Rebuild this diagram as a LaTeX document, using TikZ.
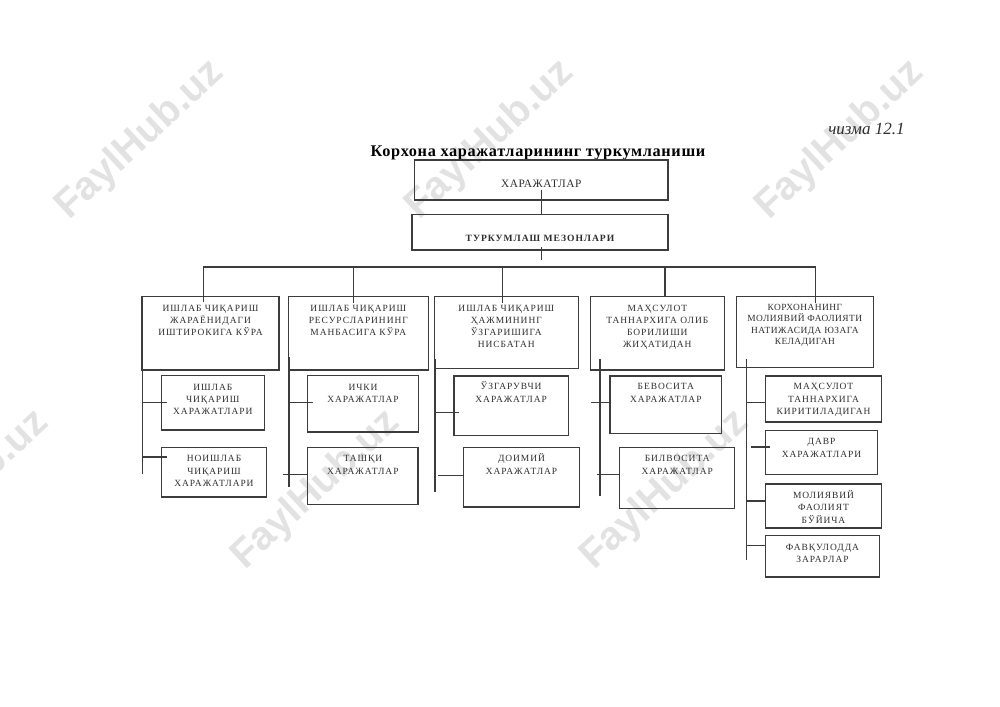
\documentclass[tikz,border=0pt]{standalone}
\usepackage{fontspec}
\setmainfont{Liberation Serif}
\newfontfamily\capsfont[LetterSpace=10]{Liberation Serif}
\newfontfamily\tightcaps[LetterSpace=5]{Liberation Serif}
\newfontfamily\markfont{Liberation Sans}
\definecolor{inkline}{HTML}{3C3C3C}
\definecolor{inktext}{HTML}{2E2E2E}
\definecolor{markgrey}{HTML}{E2E2E2}
\tikzset{
  catbox/.style={draw=inkline,line width=0.85pt,inner sep=0pt,outer sep=0pt,anchor=north west,text=inktext},
  wire/.style={draw=inkline,line width=0.9pt},
  markstyle/.style={text=markgrey,rotate=43,font=\markfont\bfseries\fontsize{30}{30}\selectfont,inner sep=0pt}
}
\newlength{\bxw}\newlength{\bxh}\newlength{\bxd}
% name x0 y0 x1 y1 offset-of-first-line font+skip text
\newcommand{\bx}[8]{%
  \setlength{\bxw}{\dimexpr #4pt-#2pt\relax}\setlength{\bxw}{0.75\bxw}%
  \setlength{\bxh}{\dimexpr #5pt-#3pt\relax}\setlength{\bxh}{0.75\bxh}%
  \setlength{\bxd}{#6pt}\setlength{\bxd}{0.75\bxd}\addtolength{\bxd}{-3.4pt}%
  \node[catbox] (#1) at (#2,#3) {\parbox[c][\bxh][t]{\bxw}{\vspace*{\bxd}\centering #7\rule{0pt}{6pt}#8\par}};%
}
\newcommand{\std}{\capsfont\fontsize{7.1}{9.2}\selectfont}
\newcommand{\lowr}{\tightcaps\fontsize{7.05}{8.6}\selectfont}
\begin{document}
\begin{tikzpicture}[x=0.75pt,y=-0.75pt]
\useasboundingbox (0,0) rectangle (1000,707);
\begin{scope}
\clip (0,0) rectangle (1000,707);
\node[markstyle] (w1) at (140,140) {FaylHub.uz};
\node[markstyle] (w2) at (490,140) {FaylHub.uz};
\node[markstyle] (w3) at (840,140) {FaylHub.uz};
\node[markstyle] (w4) at (-35,490) {FaylHub.uz};
\node[markstyle] (w5) at (316,490) {FaylHub.uz};
\node[markstyle] (w6) at (665,490) {FaylHub.uz};
\end{scope}

\node[inner sep=0pt,text=inktext,font=\fontsize{12.8}{14}\selectfont\itshape] (chizma) at (866.5,129) {чизма 12.1};
\node[inner sep=0pt,text=black,font=\fontsize{12.2}{14}\selectfont\bfseries\addfontfeature{LetterSpace=4}] (title) at (538,153) {Корхона харажатларининг туркумланиши};

\bx{xar}{414.5}{160}{668}{200}{24.5}{\tightcaps\fontsize{8.5}{10}\selectfont}{ХАРАЖАТЛАР}
\bx{mez}{412}{214.3}{668}{250}{23.4}{\capsfont\bfseries\fontsize{7.2}{9}\selectfont}{ТУРКУМЛАШ МЕЗОНЛАРИ}

\bx{a}{142}{296.7}{279}{370}{11}{\std}{ИШЛАБ ЧИҚАРИШ\\ЖАРАЁНИДАГИ\\ИШТИРОКИГА КЎРА}
\bx{b}{288.3}{296.7}{428.3}{370}{11}{\std}{ИШЛАБ ЧИҚАРИШ\\РЕСУРСЛАРИНИНГ\\МАНБАСИГА КЎРА}
\bx{c}{434.3}{296.7}{578.3}{368.3}{11}{\std}{ИШЛАБ ЧИҚАРИШ\\ҲАЖМИНИНГ\\ЎЗГАРИШИГА\\НИСБАТАН}
\bx{d}{590.3}{296.7}{724.3}{370}{11}{\std}{МАҲСУЛОТ\\ТАННАРХИГА ОЛИБ\\БОРИЛИШИ\\ЖИҲАТИДАН}
\bx{e}{736.3}{296.7}{873.3}{367.7}{10}{\lowr}{КОРХОНАНИНГ\\МОЛИЯВИЙ ФАОЛИЯТИ\\НАТИЖАСИДА ЮЗАГА\\КЕЛАДИГАН}

\bx{a1}{161.3}{375.7}{264.3}{430}{11}{\std}{ИШЛАБ\\ЧИҚАРИШ\\ХАРАЖАТЛАРИ}
\bx{a2}{161.3}{447.3}{266.7}{497}{11}{\std}{НОИШЛАБ\\ЧИҚАРИШ\\ХАРАЖАТЛАРИ}
\bx{b1}{307.7}{375.7}{418.3}{432}{11}{\std}{ИЧКИ\\ХАРАЖАТЛАР}
\bx{b2}{307.7}{447.3}{418}{504.7}{11}{\std}{ТАШҚИ\\ХАРАЖАТЛАР}
\bx{c1}{454}{376}{568.3}{435.3}{10.5}{\std}{ЎЗГАРУВЧИ\\ХАРАЖАТЛАР}
\bx{c2}{463.7}{447.3}{579.3}{507}{11}{\std}{ДОИМИЙ\\ХАРАЖАТЛАР}
\bx{d1}{610}{376}{721.7}{433.3}{10.5}{\std}{БЕВОСИТА\\ХАРАЖАТЛАР}
\bx{d2}{619.7}{447.3}{734.7}{508.3}{11}{\std}{БИЛВОСИТА\\ХАРАЖАТЛАР}
\bx{e1}{765.7}{376}{881.3}{422}{10.5}{\std}{МАҲСУЛОТ\\ТАННАРХИГА\\КИРИТИЛАДИГАН}
\bx{e2}{765.7}{430.3}{877.3}{474.3}{11}{\std}{ДАВР\\ХАРАЖАТЛАРИ}
\bx{e3}{765.7}{484}{881.3}{528}{11}{\std}{МОЛИЯВИЙ\\ФАОЛИЯТ\\БЎЙИЧА}
\bx{e4}{765.7}{535.7}{879.3}{577}{11.5}{\std}{ФАВҚУЛОДДА\\ЗАРАРЛАР}

% free ends
\coordinate (xarfoot) at (541.7,190);
\coordinate (mezfoot) at (541.7,247);
\coordinate (mezbus) at (541.7,260);
\coordinate (busL) at (203.3,267);
\coordinate (busR) at (815.7,267);
\coordinate (dropa) at (203.3,302);
\coordinate (dropb) at (353.3,303);
\coordinate (dropc) at (502.3,303);
\coordinate (dropd) at (665,297);
\coordinate (drope) at (815.7,303);

\draw[wire] (xarfoot) -- (mez.north -| xarfoot);
\draw[wire] (mezfoot) -- (mezbus);
\draw[wire,line width=1pt] (busL) -- (busR);
\foreach \q in {a,b,c,d,e}{\draw[wire] (busL -| drop\q) -- (drop\q);}

% spines
\coordinate (sat) at (142.3,343); \coordinate (sab) at (142.3,474);
\coordinate (sbt) at (289,357);   \coordinate (sbb) at (289,487.3);
\coordinate (sct) at (435,359);   \coordinate (scb) at (435,491.7);
\coordinate (sdt) at (600,359);   \coordinate (sdb) at (600,496);
\coordinate (set) at (746.3,359.3); \coordinate (seb) at (746.3,560);
\foreach \q in {a,b,c,d,e}{\draw[wire] (s\q t) -- (s\q b);}

% branches
\coordinate (a1e) at (167.3,402.3); \draw[wire] (sat |- a1e) -- (a1e);
\coordinate (a2e) at (167.3,457);   \draw[wire] (sat |- a2e) -- (a2e);
\coordinate (b1e) at (313,402.7);   \draw[wire] (sbt |- b1e) -- (b1e);
\coordinate (b2s) at (282.7,474.3); \draw[wire] (b2s) -- (b2.west |- b2s);
\coordinate (c1e) at (459.3,412.7); \draw[wire] (sct |- c1e) -- (c1e);
\coordinate (c2s) at (438.3,475.3); \draw[wire] (c2s) -- (c2.west |- c2s);
\coordinate (d1s) at (591,402.7);   \draw[wire] (d1s) -- (d1.west |- d1s);
\coordinate (d2s) at (596.7,474.7); \draw[wire] (d2s) -- (d2.west |- d2s);
\coordinate (e1s) at (746.3,402.7); \draw[wire] (e1s) -- (e1.west |- e1s);
\coordinate (e2s) at (751,447); \coordinate (e2e) at (770.3,447); \draw[wire] (e2s) -- (e2e);
\coordinate (e3s) at (746.3,501); \draw[wire] (e3s) -- (e3.west |- e3s);
\coordinate (e4s) at (746.3,545.3); \draw[wire,line width=1.1pt] (e4s) -- (e4.west |- e4s);
\end{tikzpicture}
\end{document}
